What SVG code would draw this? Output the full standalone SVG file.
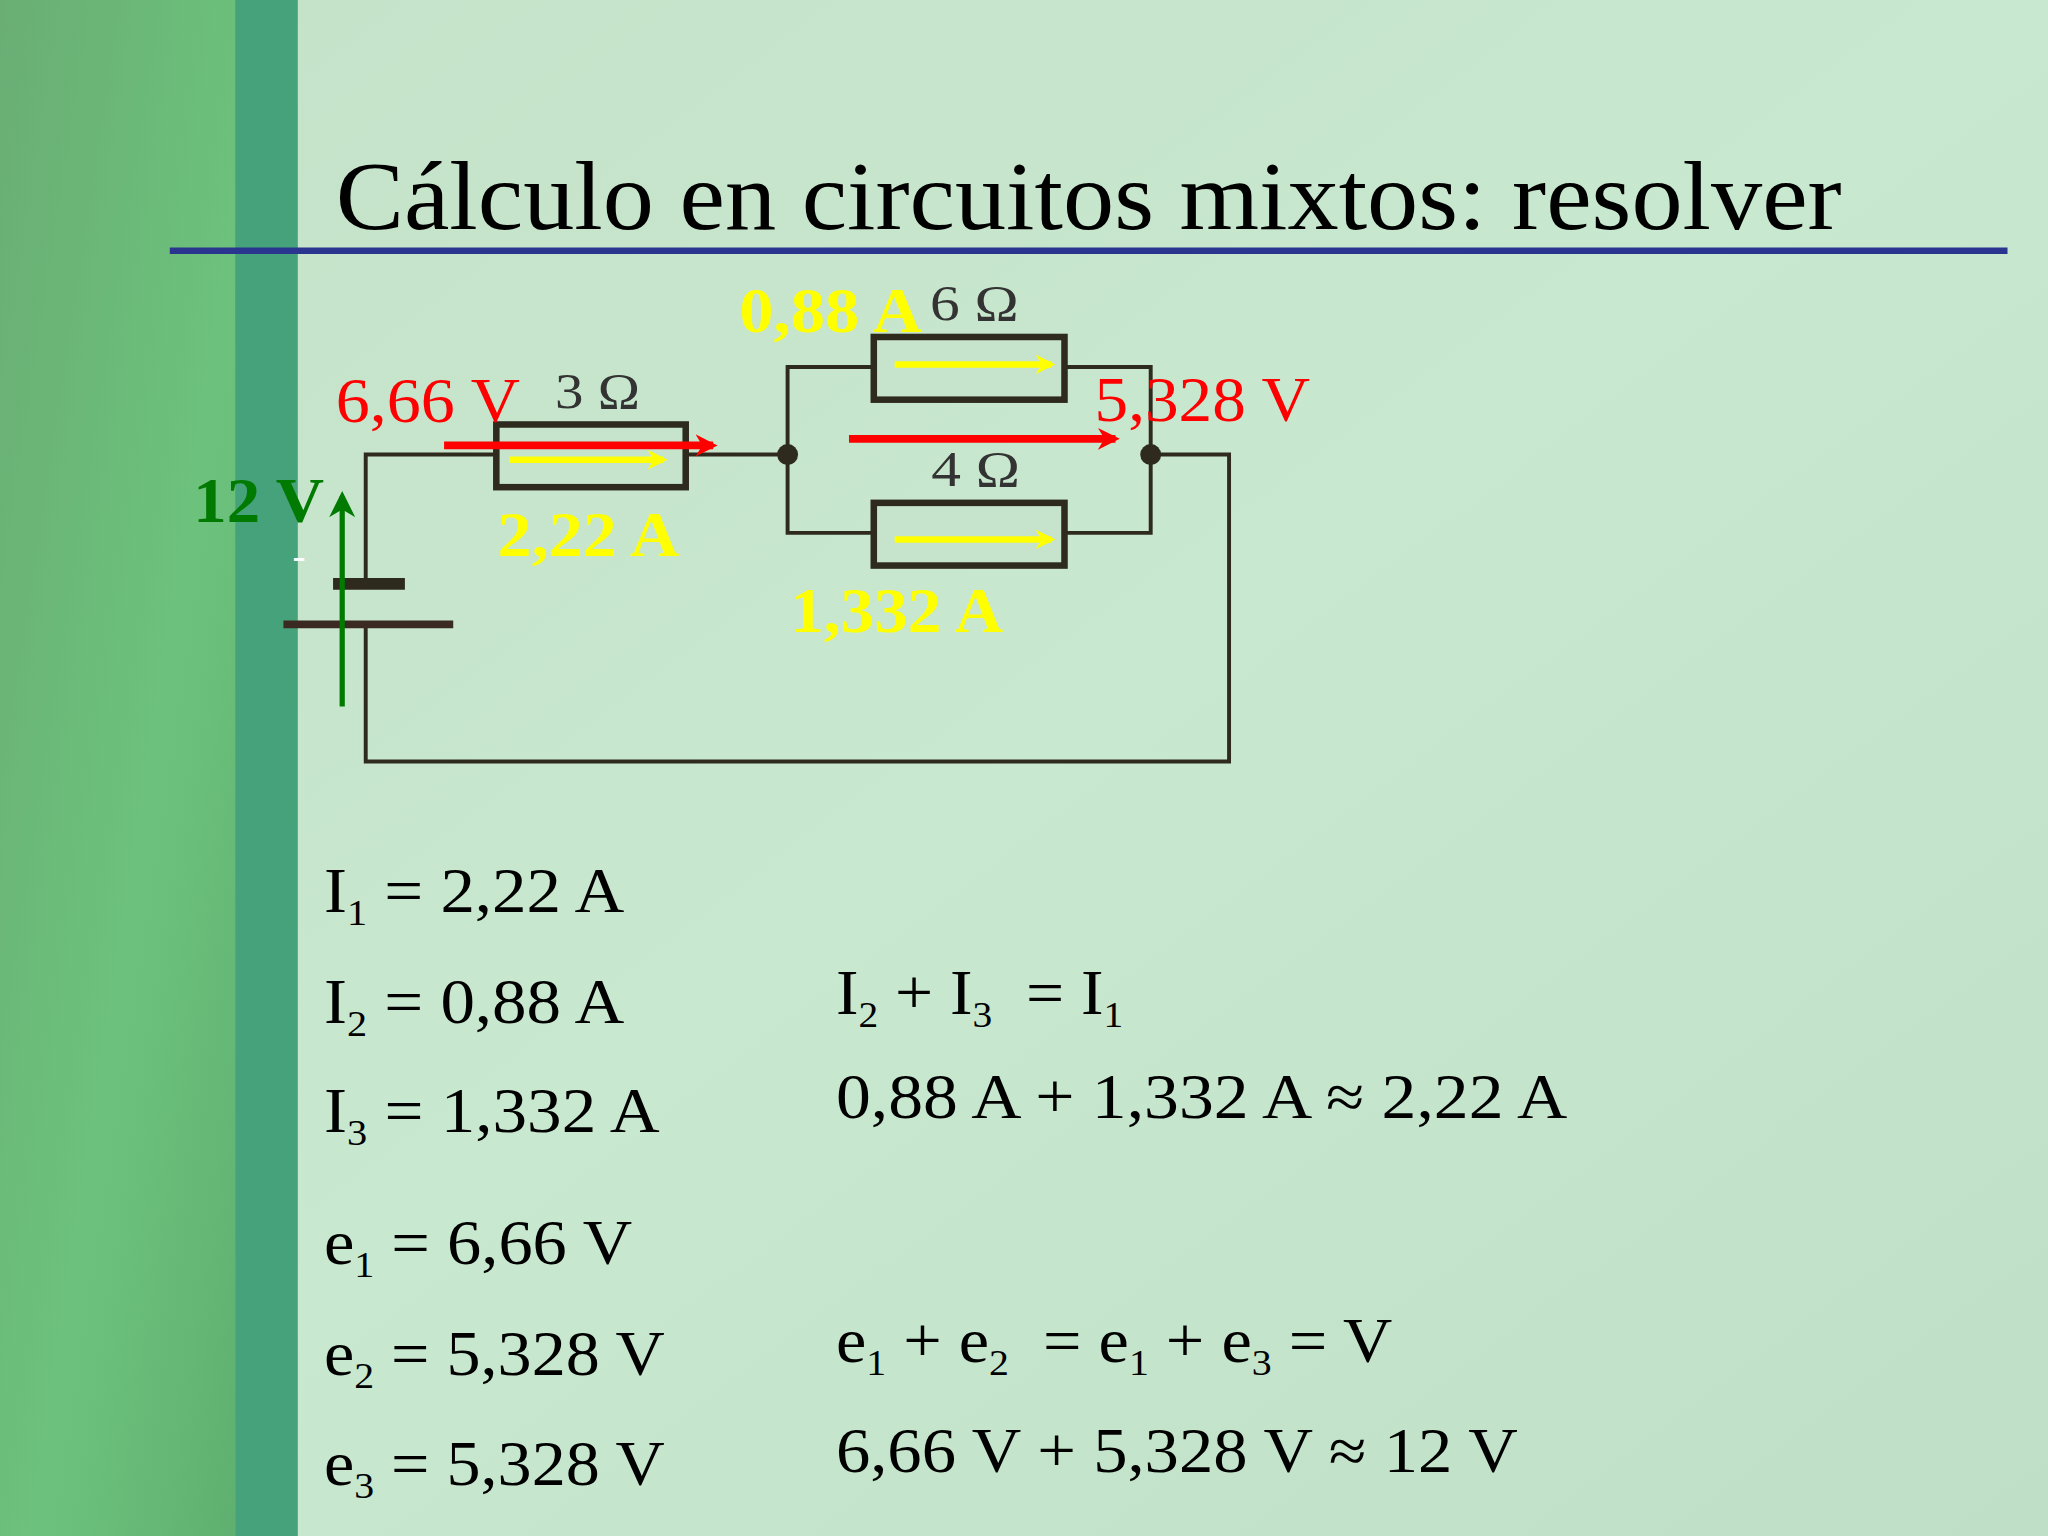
<svg xmlns="http://www.w3.org/2000/svg" width="2048" height="1536" viewBox="0 0 2048 1536">
<defs>
<linearGradient id="bg" x1="0" y1="0" x2="1" y2="1"><stop offset="0" stop-color="#c4e2c8"/><stop offset="0.5" stop-color="#c8e8cf"/><stop offset="1" stop-color="#bfe0c6"/></linearGradient>
<linearGradient id="lb" x1="0" y1="0" x2="1" y2="1"><stop offset="0" stop-color="#6aae74"/><stop offset="0.6" stop-color="#6cc27c"/><stop offset="1" stop-color="#5fb070"/></linearGradient>
<marker id="ay" viewBox="0 0 10 10" refX="8" refY="5" markerWidth="3" markerHeight="3.5" orient="auto"><path d="M0,0 L10,5 L0,10 L3,5Z" fill="#ffff00"/></marker>
<marker id="ar" viewBox="0 0 10 10" refX="8" refY="5" markerWidth="2.8" markerHeight="3.5" orient="auto"><path d="M0,0 L10,5 L0,10 L3,5Z" fill="#ff0000"/></marker>
<marker id="ag" viewBox="0 0 10 10" refX="8" refY="5" markerWidth="5" markerHeight="5" orient="auto"><path d="M0,0 L10,5 L0,10 L3,5Z" fill="#007a00"/></marker>
<style>
.w{fill:none;stroke:#2e2a1e;stroke-width:3}
.r{fill:#c6e4cc;stroke:#2e2a1e;stroke-width:5}
.ser{font-family:"Liberation Serif","Times New Roman",serif}
.eq{font-family:"Liberation Serif",serif;font-size:48px;fill:#000}
.sb{font-size:28px}
.yl{font-family:"Liberation Serif",serif;font-weight:bold;font-size:48px;fill:#ffff00}
.rd{font-family:"Liberation Serif",serif;font-size:48px;fill:#ff0000}
.om{font-family:"Liberation Serif",serif;font-size:38px;fill:#333}
</style>
</defs>
<g transform="scale(1.306122)">
<rect width="1568" height="1176" fill="url(#bg)"/>
<rect width="180" height="1176" fill="url(#lb)"/>
<rect x="180" width="48" height="1176" fill="#45a27a"/>
<text x="257" y="175" class="ser" font-size="74" fill="#000" textLength="1153" lengthAdjust="spacingAndGlyphs">Cálculo en circuitos mixtos: resolver</text>
<line x1="130" y1="192" x2="1537" y2="192" stroke="#2a3590" stroke-width="5"/>

<g id="wires">
<path class="w" d="M280,447 V348 H603"/>
<path class="w" d="M603,348 V281 H668 M815,281 H881 V348"/>
<path class="w" d="M603,348 V408 H668 M815,408 H881 V348"/>
<path class="w" d="M881,348 H941 V583 H280 V478"/>
</g>
<g id="battery">
<line x1="255" y1="447" x2="310" y2="447" stroke="#2e2a1e" stroke-width="9"/>
<line x1="217" y1="478" x2="347" y2="478" stroke="#3a2a22" stroke-width="6"/>
<text x="224" y="436" class="ser" font-size="30" fill="#fff">-</text>
</g>
<g id="n1"><circle cx="603" cy="348" r="8" fill="#2e2a1e"/></g>
<g id="n2"><circle cx="881" cy="348" r="8" fill="#2e2a1e"/></g>
<g id="r3"><rect class="r" x="380" y="325" width="145" height="48"/><text x="425" y="312" class="om" textLength="65" lengthAdjust="spacingAndGlyphs">3 Ω</text></g>
<g id="r6"><rect class="r" x="669" y="258" width="146" height="48"/><text x="712" y="245" class="om" textLength="68" lengthAdjust="spacingAndGlyphs">6 Ω</text></g>
<g id="r4"><rect class="r" x="669" y="385" width="146" height="48"/><text x="713" y="372" class="om" textLength="68" lengthAdjust="spacingAndGlyphs">4 Ω</text></g>

<g id="arrows">
<line x1="390" y1="352" x2="508" y2="352" stroke="#ffff00" stroke-width="5" marker-end="url(#ay)"/>
<line x1="685" y1="279" x2="805" y2="279" stroke="#ffff00" stroke-width="5" marker-end="url(#ay)"/>
<line x1="685" y1="413" x2="805" y2="413" stroke="#ffff00" stroke-width="5" marker-end="url(#ay)"/>
<line x1="340" y1="341" x2="546" y2="341" stroke="#ff0000" stroke-width="6" marker-end="url(#ar)"/>
<line x1="650" y1="336" x2="854" y2="336" stroke="#ff0000" stroke-width="6" marker-end="url(#ar)"/>
<line x1="262" y1="541" x2="262" y2="380" stroke="#007a00" stroke-width="4" marker-end="url(#ag)"/>
</g>
<text x="148" y="400" class="ser" font-size="48" font-weight="bold" fill="#007a00" textLength="100" lengthAdjust="spacingAndGlyphs">12 V</text>
<text x="257" y="323" class="rd" textLength="141" lengthAdjust="spacingAndGlyphs">6,66 V</text>
<text x="838" y="322" class="rd" textLength="165" lengthAdjust="spacingAndGlyphs">5,328 V</text>
<text x="566" y="254" class="yl" textLength="140" lengthAdjust="spacingAndGlyphs">0,88 A</text>
<text x="381" y="426" class="yl" textLength="139" lengthAdjust="spacingAndGlyphs">2,22 A</text>
<text x="605" y="484" class="yl" textLength="163" lengthAdjust="spacingAndGlyphs">1,332 A</text>

<text x="248" y="698" class="eq" textLength="230" lengthAdjust="spacingAndGlyphs">I<tspan class="sb" dy="10">1</tspan><tspan dy="-10"> = 2,22 A</tspan></text>
<text x="248" y="783" class="eq" textLength="230" lengthAdjust="spacingAndGlyphs">I<tspan class="sb" dy="10">2</tspan><tspan dy="-10"> = 0,88 A</tspan></text>
<text x="248" y="867" class="eq" textLength="257" lengthAdjust="spacingAndGlyphs">I<tspan class="sb" dy="10">3</tspan><tspan dy="-10"> = 1,332 A</tspan></text>
<text x="248" y="968" class="eq" textLength="236" lengthAdjust="spacingAndGlyphs">e<tspan class="sb" dy="10">1</tspan><tspan dy="-10"> = 6,66 V</tspan></text>
<text x="248" y="1053" class="eq" textLength="261" lengthAdjust="spacingAndGlyphs">e<tspan class="sb" dy="10">2</tspan><tspan dy="-10"> = 5,328 V</tspan></text>
<text x="248" y="1137" class="eq" textLength="261" lengthAdjust="spacingAndGlyphs">e<tspan class="sb" dy="10">3</tspan><tspan dy="-10"> = 5,328 V</tspan></text>
<text x="640" y="776" class="eq" xml:space="preserve" textLength="220" lengthAdjust="spacingAndGlyphs">I<tspan class="sb" dy="10">2</tspan><tspan dy="-10"> + I</tspan><tspan class="sb" dy="10">3</tspan><tspan dy="-10">  = I</tspan><tspan class="sb" dy="10">1</tspan></text>
<text x="640" y="856" class="eq" textLength="560" lengthAdjust="spacingAndGlyphs">0,88 A + 1,332 A ≈ 2,22 A</text>
<text x="640" y="1043" class="eq" xml:space="preserve" textLength="426" lengthAdjust="spacingAndGlyphs">e<tspan class="sb" dy="10">1</tspan><tspan dy="-10"> + e</tspan><tspan class="sb" dy="10">2</tspan><tspan dy="-10">  = e</tspan><tspan class="sb" dy="10">1</tspan><tspan dy="-10"> + e</tspan><tspan class="sb" dy="10">3</tspan><tspan dy="-10"> = V</tspan></text>
<text x="640" y="1127" class="eq" textLength="522" lengthAdjust="spacingAndGlyphs">6,66 V + 5,328 V ≈ 12 V</text>
</g>
</svg>
